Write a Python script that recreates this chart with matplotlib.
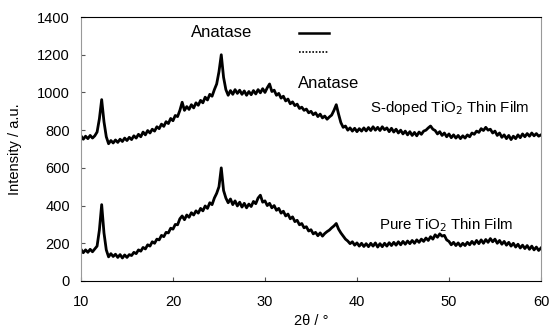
import numpy as np
import matplotlib.pyplot as plt

plt.rcParams['font.family'] = ['Liberation Sans', 'DejaVu Sans']

# 2theta grid, 10..60 deg every 0.25 deg
two_theta = np.arange(201) * 0.25 + 10

s_doped = [
    770, 752, 768, 755, 772, 758, 770, 790,
    860, 962, 845, 765, 728, 745, 732, 748,
    735, 752, 740, 758, 745, 762, 750, 770,
    758, 778, 765, 790, 775, 798, 785, 805,
    795, 818, 808, 832, 820, 845, 835, 862,
    850, 878, 872, 905, 948, 905, 925, 910,
    935, 918, 945, 932, 958, 945, 975, 960,
    990, 980, 1015, 1045, 1110, 1200, 1080, 1015,
    985, 1010, 990, 1015, 995, 1012, 990, 1008,
    985, 1005, 988, 1010, 992, 1015, 998, 1020,
    1000, 1025, 1045, 1005, 1012, 985, 995, 970,
    980, 955, 965, 940, 950, 930, 938, 915,
    922, 905, 912, 892, 900, 882, 892, 872,
    885, 865, 875, 858, 870, 880, 905, 935,
    885, 840, 815, 822, 800, 812, 795, 810,
    792, 808, 795, 812, 796, 814, 798, 818,
    800, 815, 798, 818, 802, 812, 792, 810,
    790, 805, 785, 800, 780, 795, 775, 792,
    772, 788, 770, 790, 778, 795, 800, 812,
    822, 805, 798, 780, 792, 772, 785, 765,
    780, 760, 775, 758, 772, 755, 770, 758,
    775, 765, 785, 778, 795, 788, 808, 798,
    815, 800, 805, 785, 795, 772, 785, 762,
    775, 755, 772, 750, 768, 755, 775, 760,
    780, 765, 782, 768, 785, 770, 782, 768,
    775,
]

pure = [
    168, 150, 165, 152, 168, 155, 170, 185,
    270, 405, 255, 165, 128, 145, 130, 142,
    125, 140, 122, 138, 125, 140, 135, 152,
    145, 165, 158, 178, 170, 192, 185, 208,
    200, 222, 218, 242, 235, 258, 255, 280,
    275, 300, 298, 330, 345, 325, 350, 338,
    362, 350, 372, 360, 385, 372, 398, 385,
    415, 405, 440, 465, 500, 600, 480, 440,
    415, 435, 405, 425, 398, 418, 392, 412,
    388, 408, 395, 422, 410, 440, 455, 418,
    425, 400, 412, 388, 400, 375, 385, 360,
    370, 345, 355, 330, 340, 315, 322, 298,
    305, 282, 288, 265, 272, 250, 258, 240,
    255, 238, 252, 262, 270, 282, 292, 305,
    275, 255, 238, 222, 212, 198, 208, 190,
    202, 185, 200, 183, 198, 182, 200, 185,
    202, 180, 198, 182, 200, 185, 203, 188,
    205, 190, 208, 192, 210, 195, 212, 198,
    215, 200, 218, 205, 222, 210, 228, 215,
    235, 222, 245, 232, 250, 238, 242, 218,
    210, 192, 205, 188, 202, 185, 200, 188,
    205, 192, 210, 195, 215, 198, 218, 200,
    220, 205, 225, 208, 222, 200, 215, 195,
    210, 190, 205, 185, 200, 180, 195, 175,
    190, 172, 188, 168, 185, 165, 180, 162,
    175,
]

fig = plt.figure(figsize=(5.52, 3.34), dpi=100)
ax = fig.add_axes([0.1467, 0.1587, 0.8333, 0.7903])

ax.plot(two_theta, s_doped, color='black', lw=2.0)
ax.plot(two_theta, pure, color='black', lw=2.0)

ax.set_xlim(10, 60)
ax.set_ylim(0, 1400)
ax.set_xticks(range(10, 61, 10))
ax.set_yticks(range(0, 1401, 200))
ax.tick_params(direction='in', length=3, labelsize=10.5, color='#555555')
ax.tick_params(axis='x', pad=10)
ax.tick_params(axis='y', pad=8)
for side in ['left', 'right']:
    ax.spines[side].set_color('#999999')
for side in ['top', 'bottom']:
    ax.spines[side].set_color('black')

ax.set_xlabel('2θ / °', fontsize=10.5, labelpad=4)
ax.set_ylabel('Intensity / a.u.', fontsize=10.5, labelpad=11)

ax.text(25.3, 1320, 'Anatase', fontsize=12, ha='center', va='center')
ax.text(36.96, 1050, 'Anatase', fontsize=12, ha='center', va='center')
ax.plot([33.7, 37.0], [1317, 1317], color='black', lw=1.8)
ax.plot([33.7, 37.0], [1214, 1214], color='black', lw=1.2, ls=(0, (1, 1)))
ax.text(41.4, 917, 'S-doped TiO$_2$ Thin Film', fontsize=10.8, ha='left', va='center')
ax.text(42.4, 297, 'Pure TiO$_2$ Thin Film', fontsize=10.8, ha='left', va='center')

fig.savefig('out.png', dpi=100)
